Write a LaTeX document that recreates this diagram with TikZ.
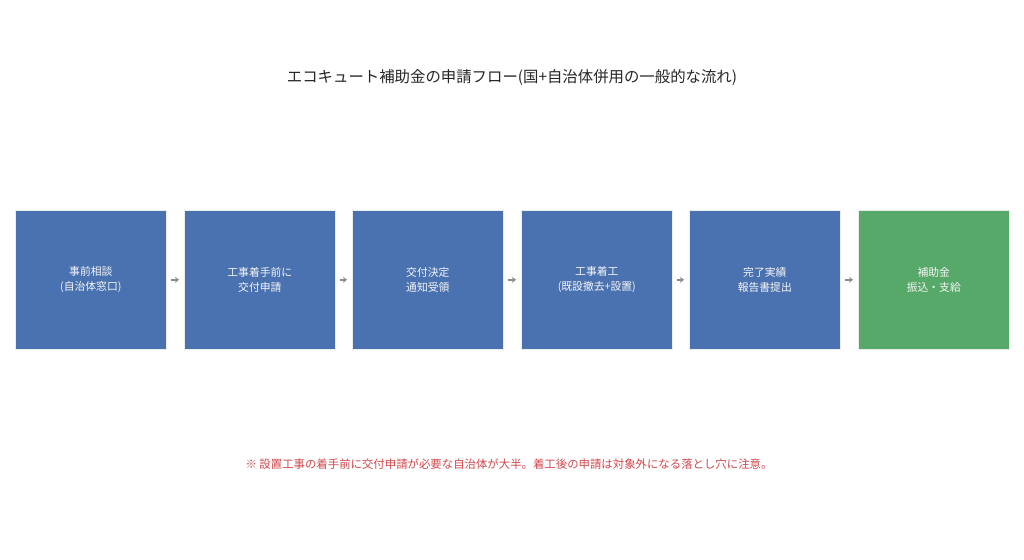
\documentclass[tikz,border=0pt]{standalone}
\usepackage{fontspec}
\setmainfont{Noto Sans CJK JP}
\newfontfamily\cjk{Noto Sans CJK JP}
\usetikzlibrary{arrows.meta}
\definecolor{boxblue}{HTML}{4A72B0}
\definecolor{boxgreen}{HTML}{57A96A}
\definecolor{notered}{HTML}{D0484C}
\definecolor{arrowgray}{HTML}{8C8C8C}
\tikzset{
  stepbox/.style={draw=white!85!gray, line width=0.6pt, minimum width=151pt, minimum height=139pt, inner sep=0pt,
    text=white!92!gray, font=\cjk\fontsize{10.8}{15}\selectfont, align=center, anchor=north west},
  flow/.style={draw=arrowgray, line width=2pt, -{Stealth[length=4pt,width=6pt]}},
}
\begin{document}
\begin{tikzpicture}[x=1pt,y=-1pt]
\useasboundingbox[fill=white] (0,0) rectangle (1024,559);
\node[font=\cjk\fontsize{15.4}{18}\selectfont, text=black!85] (title) at (512,78) {エコキュート補助金の申請フロー(国+自治体併用の一般的な流れ)};
\node[stepbox, fill=boxblue] (s1) at (15,210) {事前相談\\(自治体窓口)};
\node[stepbox, fill=boxblue] (s2) at (184,210) {工事着手前に\\交付申請};
\node[stepbox, fill=boxblue] (s3) at (352,210) {交付決定\\通知受領};
\node[stepbox, fill=boxblue] (s4) at (521,210) {工事着工\\(既設撤去+設置)};
\node[stepbox, fill=boxblue] (s5) at (689,210) {完了実績\\報告書提出};
\node[stepbox, fill=boxgreen] (s6) at (858,210) {補助金\\振込・支給};
\foreach \a/\b in {s1/s2,s2/s3,s3/s4,s4/s5,s5/s6}{
  \draw[flow] ([xshift=4pt]\a.east) -- ([xshift=-5pt]\b.west);
}
\node[font=\cjk\fontsize{11.4}{13}\selectfont, text=notered] (note) at (509,464) {※ 設置工事の着手前に交付申請が必要な自治体が大半。着工後の申請は対象外になる落とし穴に注意。};
\end{tikzpicture}
\end{document}
